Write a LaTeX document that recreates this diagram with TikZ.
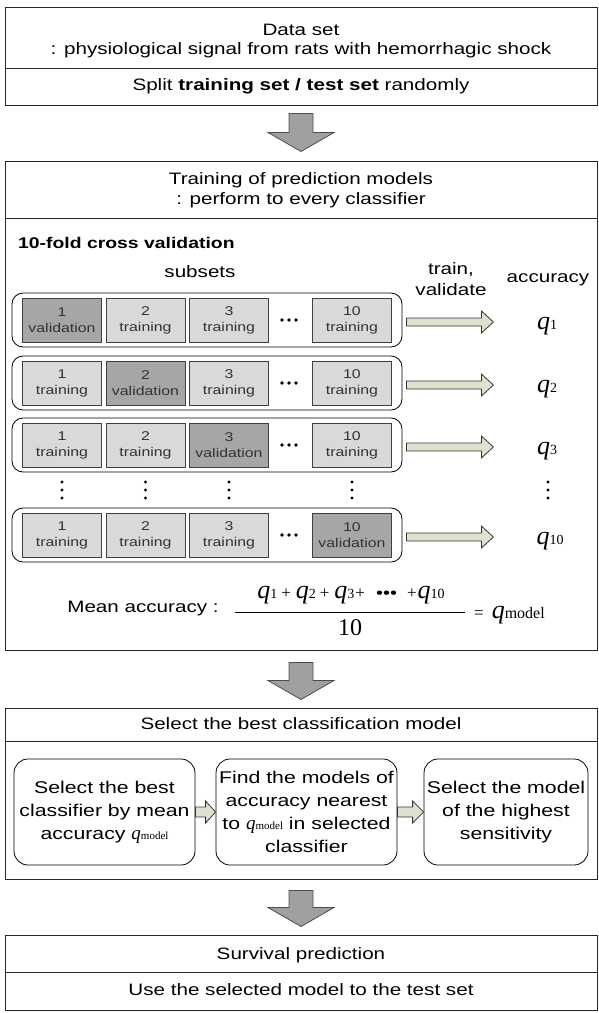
\documentclass[tikz,border=0pt]{standalone}
\usepackage{fontspec}
\setmainfont{Liberation Sans}[FakeStretch=1.25]
\newfontfamily\qf{Liberation Serif}
\usetikzlibrary{calc}
\definecolor{trainfill}{HTML}{D9D9D9}
\definecolor{valfill}{HTML}{A6A6A6}
\definecolor{arrfill}{HTML}{DDE2CE}
\definecolor{bigfill}{HTML}{A0A0A0}
\newcommand{\qq}[3]{{\qf\itshape\fontsize{#1}{#1}\selectfont q}{\qf\fontsize{#2}{#2}\selectfont #3}}
\newcommand{\pl}{{\qf\fontsize{17}{17}\selectfont +}}
\newcommand{\blockR}[5]{%
  \draw[smallarrow] let \p1=#1, \p2=#2 in
   (\x1,\y1+#4) -- (\x2-#3,\y1+#4) -- (\x2-#3,\y1+#5) -- (\x2,\y1) --
   (\x2-#3,\y1-#5) -- (\x2-#3,\y1-#4) -- (\x1,\y1-#4) -- cycle;}
\newcommand{\blockD}[2]{%
  \draw[bigarrow] let \p1=#1, \p2=#2 in
   (\x1-12pt,\y1) -- (\x1+12pt,\y1) -- (\x1+12pt,\y2+19pt) -- (\x1+33pt,\y2+19pt) --
   (\x1,\y2) -- (\x1-33pt,\y2+19pt) -- (\x1-12pt,\y2+19pt) -- cycle;}
\tikzset{
  mainbox/.style={draw=black!85, line width=1pt, inner sep=0pt, minimum width=592pt},
  ttext/.style={font=\fontsize{16.5}{21}\selectfont, inner sep=0pt, align=center},
  rowbox/.style={draw=black, rounded corners=11pt, line width=0.8pt, minimum width=390pt, minimum height=54pt, inner sep=0pt},
  trainbox/.style={draw=black!75, fill=trainfill, line width=0.8pt, minimum width=79pt, minimum height=44pt, inner sep=0pt, align=center, font=\fontsize{12.7}{16}\selectfont, text=black!80},
  valbox/.style={trainbox, fill=valfill},
  bigarrow/.style={draw=black!70, fill=bigfill, line width=0.8pt},
  smallarrow/.style={draw=black!80, fill=arrfill, line width=0.8pt},
  selbox/.style={draw=black, rounded corners=14pt, line width=0.8pt, minimum height=106pt, inner sep=0pt, align=center, font=\fontsize{17}{23}\selectfont},
  qlab/.style={inner sep=0pt, anchor=base},
  vdot/.style={fill=black, circle, inner sep=0pt, minimum size=3.4pt},
}
\begin{document}
\begin{tikzpicture}[x=1pt,y=-1pt]
\useasboundingbox (0,0) rectangle (598,1013);
% ---------- box 1
\node[mainbox, minimum height=98pt] (b1) at (301,56) {};
\draw[black!85, line width=1pt] (5,68) -- (597,68);
\node[ttext] (t1) at (301,30) {Data set};
\node[ttext] (t2) at (301,50) {: physiological signal from rats with hemorrhagic shock};
\node[ttext] (t3) at (301,86) {Split \textbf{training set / test set} randomly};
% ---------- box 2
\node[mainbox, minimum height=489pt] (b2) at (301,405.5) {};
\draw[black!85, line width=1pt] (5,218) -- (597,218);
\node[ttext] (t4) at (301,180) {Training of prediction models};
\node[ttext] (t5) at (301,200) {: perform to every classifier};
\node[ttext, anchor=west, font=\fontsize{15.5}{18}\selectfont\bfseries] (cv) at (18,243) {10-fold cross validation};
\node[ttext] (subs) at (200,272) {subsets};
\node[ttext] (tv) at (451,279) {train,\\validate};
\node[ttext] (acc) at (548,280) {accuracy};
% rows
\foreach \r/\y in {1/320,2/383,3/445,10/535}{
  \node[rowbox] (r\r) at (207,\y) {};
  \fill (282,\y) circle (1.8pt) (289,\y) circle (1.8pt) (296,\y) circle (1.8pt);
}
% row 1
\node[valbox]   (r1a) at (62,320)  {1\\validation};
\node[trainbox] (r1b) at (145.5,320) {2\\training};
\node[trainbox] (r1c) at (229,320) {3\\training};
\node[trainbox] (r1d) at (352,320) {10\\training};
% row 2
\node[trainbox] (r2a) at (62,383)  {1\\training};
\node[valbox]   (r2b) at (145.5,383) {2\\validation};
\node[trainbox] (r2c) at (229,383) {3\\training};
\node[trainbox] (r2d) at (352,383) {10\\training};
% row 3
\node[trainbox] (r3a) at (62,445)  {1\\training};
\node[trainbox] (r3b) at (145.5,445) {2\\training};
\node[valbox]   (r3c) at (229,445) {3\\validation};
\node[trainbox] (r3d) at (352,445) {10\\training};
% row 10
\node[trainbox] (r10a) at (62,535)  {1\\training};
\node[trainbox] (r10b) at (145.5,535) {2\\training};
\node[trainbox] (r10c) at (229,535) {3\\training};
\node[valbox]   (r10d) at (352,535) {10\\validation};
% q labels
\node[qlab] (q1) at (547,329) {\qq{26}{14}{1}};
\node[qlab] (q2) at (547,392) {\qq{26}{14}{2}};
\node[qlab] (q3) at (547,454) {\qq{26}{14}{3}};
\node[qlab] (q10) at (550,544) {\qq{26}{14}{10}};
% arrows
\foreach \r in {1,2,3,10}{
  \coordinate (s\r) at ($(r\r.east)+(4,2)$);
  \coordinate (e\r) at ($(r\r.east)+(91,2)$);
  \blockR{(s\r)}{(e\r)}{12pt}{4pt}{11pt}
}
% vertical dots
\foreach \x in {62,145.5,229,352,548}{
  \node[vdot] at (\x,482) {};
  \node[vdot] at (\x,490) {};
  \node[vdot] at (\x,498) {};
}
% mean accuracy
\node[ttext] (ma) at (143,609) {Mean accuracy :};
\node[inner sep=0pt, anchor=base] (num) at (351,598) {\qq{26}{14}{1}\hspace{4pt}\pl\hspace{5pt}\qq{26}{14}{2}\hspace{4pt}\pl\hspace{5pt}\qq{26}{14}{3}\hspace{1pt}\pl\hspace{11pt}{\fontsize{16}{16}\selectfont\textbullet\textbullet\textbullet}\hspace{10pt}\pl\hspace{1pt}\qq{26}{14}{10}};
\draw[line width=0.8pt] (235,612) -- (465,612);
\node[inner sep=0pt, anchor=base] (den) at (350,635) {{\qf\fontsize{24}{24}\selectfont 10}};
\node[inner sep=0pt, anchor=base west] (qm) at (474,618) {{\qf\fontsize{17}{17}\selectfont =}\hspace{8pt}\qq{26}{16}{model}};
% ---------- box 3
\node[mainbox, minimum height=171pt] (b3) at (301,793.5) {};
\draw[black!85, line width=1pt] (5,741) -- (597,741);
\node[ttext] (t6) at (301,724) {Select the best classification model};
\node[selbox, minimum width=181pt] (sa) at (104.5,812) {Select the best\\classifier by mean\\accuracy \qq{19}{11}{model}};
\node[selbox, minimum width=181pt] (sb) at (306.5,812) {Find the models of\\accuracy nearest\\to \qq{19}{11}{model} in selected\\classifier};
\node[selbox, minimum width=164pt] (sc) at (506,812) {Select the model\\of the highest\\sensitivity};
\blockR{(sa.east)}{(sb.west)}{10pt}{5pt}{11pt}
\blockR{(sb.east)}{(sc.west)}{11pt}{5pt}{11pt}
% ---------- box 4
\node[mainbox, minimum height=75pt] (b4) at (301,972.5) {};
\draw[black!85, line width=1pt] (5,972) -- (597,972);
\node[ttext] (t7) at (301,955) {Survival prediction};
\node[ttext] (t8) at (301,990) {Use the selected model to the test set};
% ---------- big arrows
\coordinate (a1s) at ($(b1.south)+(0,8)$);  \coordinate (a1e) at ($(b2.north)+(0,-9)$);
\coordinate (a2s) at ($(b2.south)+(0,12)$); \coordinate (a2e) at ($(b3.north)+(0,-8)$);
\coordinate (a3s) at ($(b3.south)+(0,11)$); \coordinate (a3e) at ($(b4.north)+(0,-8)$);
\blockD{(a1s)}{(a1e)}
\blockD{(a2s)}{(a2e)}
\blockD{(a3s)}{(a3e)}
\end{tikzpicture}
\end{document}
